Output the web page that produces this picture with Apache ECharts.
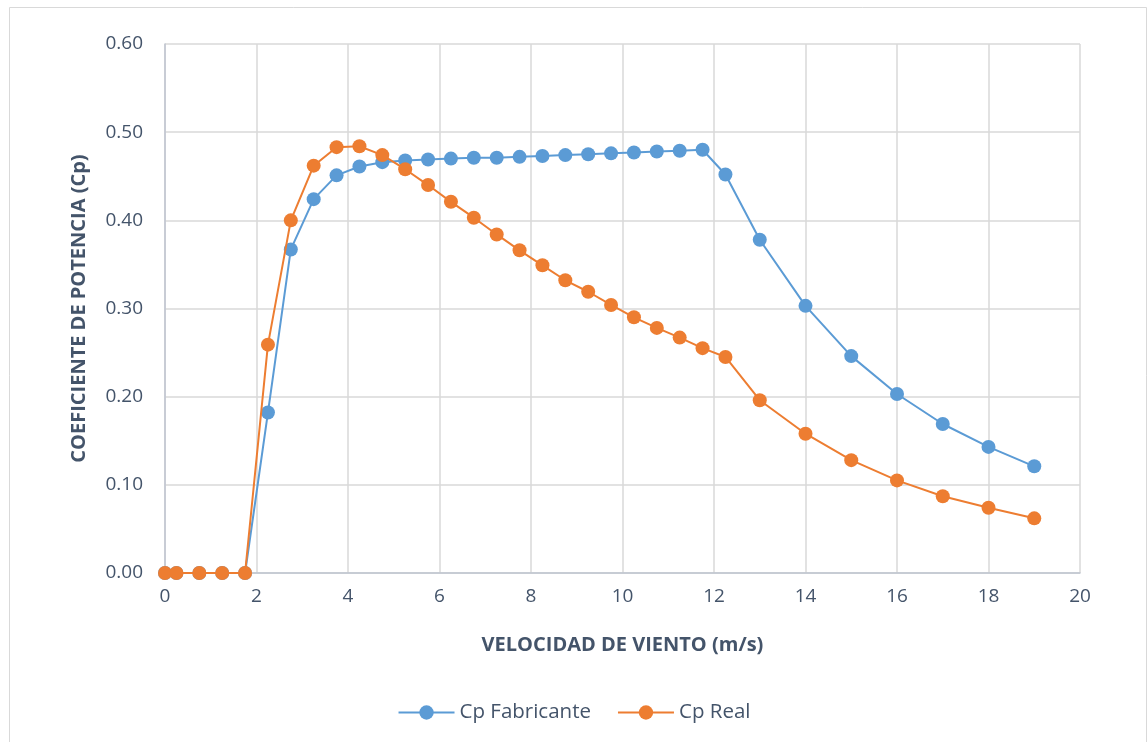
<!DOCTYPE html>
<html>
<head>
<meta charset="utf-8">
<style>
  html, body { margin: 0; padding: 0; background: #ffffff; }
  #chart { width: 1148px; height: 742px; }
</style>
<script src="https://cdn.jsdelivr.net/npm/echarts@6/dist/echarts.min.js"></script>
</head>
<body>
<div id="chart"></div>
<script>
// Wind speed (m/s) at which each power coefficient was measured
const windSpeed = [0, 0.25, 0.75, 1.25, 1.75, 2.25, 2.75, 3.25, 3.75, 4.25, 4.75, 5.25, 5.75, 6.25,
  6.75, 7.25, 7.75, 8.25, 8.75, 9.25, 9.75, 10.25, 10.75, 11.25, 11.75, 12.25, 13, 14, 15, 16, 17, 18, 19];

// Manufacturer power coefficient curve
const cpFabricante = [0, 0, 0, 0, 0, 0.182, 0.367, 0.424, 0.451, 0.461, 0.466, 0.468, 0.469, 0.470,
  0.471, 0.471, 0.472, 0.473, 0.474, 0.475, 0.476, 0.477, 0.478, 0.479, 0.480, 0.452, 0.378, 0.303,
  0.246, 0.203, 0.169, 0.143, 0.121];

// Measured power coefficient curve
const cpReal = [0, 0, 0, 0, 0, 0.259, 0.400, 0.462, 0.483, 0.484, 0.474, 0.458, 0.440, 0.421,
  0.403, 0.384, 0.366, 0.349, 0.332, 0.319, 0.304, 0.290, 0.278, 0.267, 0.255, 0.245, 0.196, 0.158,
  0.128, 0.105, 0.087, 0.074, 0.062];

const seriesNames = ['Cp Fabricante', 'Cp Real'];
const xTitle = 'VELOCIDAD DE VIENTO (m/s)';
const yTitle = 'COEFICIENTE DE POTENCIA (Cp)';

const textColor = '#44546a';
const fontFamily = '"Open Sans", Lato, "Noto Sans", sans-serif';
const colors = ['#5b9bd5', '#ed7d31'];

const pairs = ys => windSpeed.map((x, i) => [x, ys[i]]);

const chart = echarts.init(document.getElementById('chart'), null, { renderer: 'canvas' });

chart.setOption({
  animation: false,
  backgroundColor: '#ffffff',
  textStyle: { fontFamily: fontFamily, color: textColor },
  graphic: [{
    type: 'rect',
    shape: { x: 9.5, y: 7.5, width: 1137, height: 760 },
    style: { fill: 'none', stroke: '#d9d9d9', lineWidth: 1 },
    silent: true,
    z: -1
  }],
  grid: { left: 165, right: 68, top: 44, bottom: 169, containLabel: false },
  legend: {
    data: seriesNames,
    bottom: 14,
    left: 'center',
    itemWidth: 56,
    itemHeight: 18,
    itemGap: 26,
    textStyle: { fontSize: 20.5, color: textColor, fontFamily: fontFamily, padding: [0, 0, 0, 0] }
  },
  xAxis: {
    type: 'value',
    min: 0,
    max: 20,
    interval: 2,
    name: xTitle,
    nameLocation: 'middle',
    nameGap: 62,
    nameTextStyle: { fontSize: 20, fontWeight: 'bold', color: textColor },
    axisLine: { show: true, onZero: false, lineStyle: { color: '#bfc5d0', width: 1.5 } },
    axisTick: { show: false },
    axisLabel: { fontSize: 19, color: textColor, margin: 14 },
    splitLine: { show: true, lineStyle: { color: '#d9d9d9', width: 1.5 } }
  },
  yAxis: {
    type: 'value',
    min: 0,
    max: 0.6,
    interval: 0.1,
    name: yTitle,
    nameLocation: 'middle',
    nameGap: 76,
    nameTextStyle: { fontSize: 20, fontWeight: 'bold', color: textColor },
    axisLine: { show: true, lineStyle: { color: '#bfc5d0', width: 1.5 } },
    axisTick: { show: false },
    axisLabel: { fontSize: 19, color: textColor, margin: 22, formatter: v => v.toFixed(2) },
    splitLine: { show: true, lineStyle: { color: '#d9d9d9', width: 1.5 } }
  },
  series: [
    {
      name: seriesNames[0],
      type: 'line',
      data: pairs(cpFabricante),
      symbol: 'circle',
      symbolSize: 14,
      itemStyle: { color: colors[0] },
      lineStyle: { color: colors[0], width: 2 },
      z: 2
    },
    {
      name: seriesNames[1],
      type: 'line',
      data: pairs(cpReal),
      symbol: 'circle',
      symbolSize: 14,
      itemStyle: { color: colors[1] },
      lineStyle: { color: colors[1], width: 2 },
      z: 3
    }
  ]
});
</script>
</body>
</html>
